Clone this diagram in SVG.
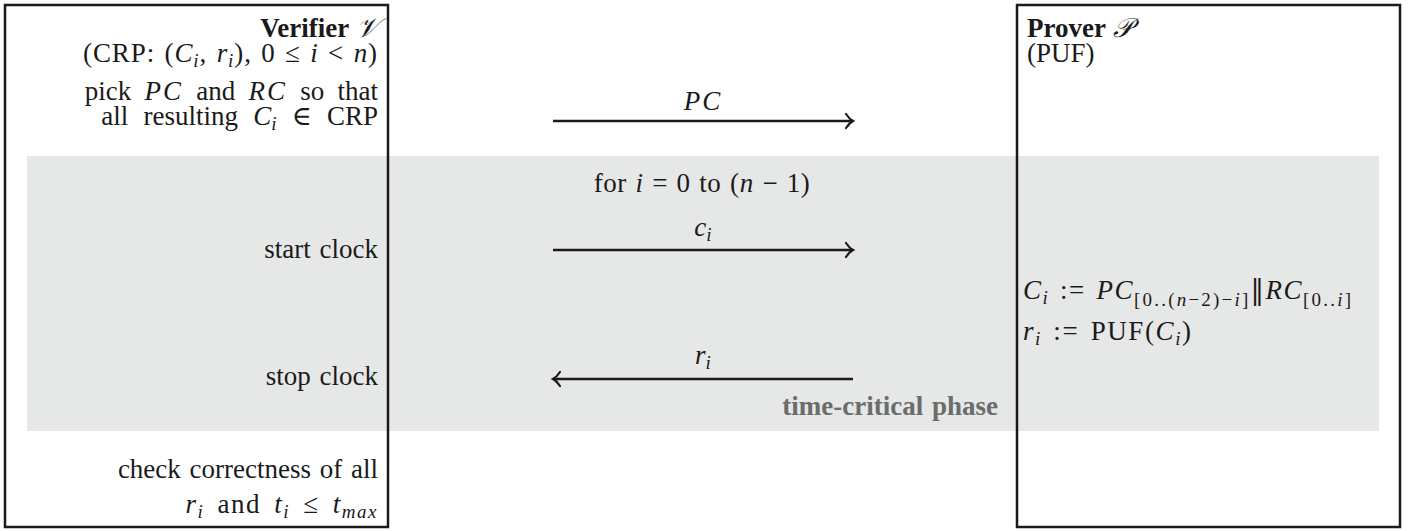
<svg xmlns="http://www.w3.org/2000/svg" width="1411" height="531" viewBox="0 0 1411 531">
<defs>
<style>
text{font-family:"Liberation Serif","DejaVu Serif",serif;font-size:27px;fill:#1a1a1a}
.r{text-anchor:end}
.c{text-anchor:middle}
.i{font-style:italic}
.b{font-weight:bold}
.s{font-size:19px}
.m{letter-spacing:1.5px;word-spacing:2.5px}
.w{word-spacing:2px}
.g{fill:#6b6c6c;font-weight:bold}
.box{fill:none;stroke:#1a1a1a;stroke-width:2.5}
.arr{stroke:#1a1a1a;stroke-width:2.5;fill:none}
</style>
<marker id="ah" markerWidth="14" markerHeight="18" refX="11" refY="9" orient="auto" markerUnits="userSpaceOnUse">
<path d="M4,2 C6,5 8,7.5 11,9 C8,10.5 6,13 4,16" fill="none" stroke="#1a1a1a" stroke-width="2.2" stroke-linecap="round"/>
</marker>
</defs>
<rect width="1411" height="531" fill="#fff"/>
<rect id="phase" x="27" y="156" width="1352" height="275" fill="#e6e7e7"/>
<g id="verifier">
<rect class="box" x="5" y="5" width="383" height="522"/>
<text class="r" x="378" y="37"><tspan class="b">Verifier</tspan> <tspan class="i">𝒱</tspan></text>
<text class="r" x="378" y="62" style="letter-spacing:0.9px;word-spacing:1.8px">(CRP: (<tspan class="i">C</tspan><tspan class="i s" dy="5">i</tspan><tspan dy="-5">, </tspan><tspan class="i">r</tspan><tspan class="i s" dy="5">i</tspan><tspan dy="-5">), 0 ≤ </tspan><tspan class="i">i</tspan> &lt; <tspan class="i">n</tspan>)</text>
<text class="r" x="378" y="100" style="word-spacing:6.5px">pick <tspan class="i" style="letter-spacing:2px">PC</tspan> and <tspan class="i" style="letter-spacing:2px">RC</tspan> so that</text>
<text class="r" x="378" y="125" style="word-spacing:8.5px">all resulting <tspan class="i">C</tspan><tspan class="i s" dy="5">i</tspan><tspan dy="-5"> ∈ CRP</tspan></text>
<text class="r w" x="378" y="258">start clock</text>
<text class="r w" x="378" y="385">stop clock</text>
<text class="r w" x="378" y="478">check correctness of all</text>
<text class="r" x="378" y="513" style="letter-spacing:1.5px;word-spacing:5px"><tspan class="i">r</tspan><tspan class="i s" dy="5">i</tspan><tspan dy="-5"> and </tspan><tspan class="i">t</tspan><tspan class="i s" dy="5">i</tspan><tspan dy="-5"> ≤ </tspan><tspan class="i">t</tspan><tspan class="i s" dy="5">max</tspan></text>
</g>
<g id="prover">
<rect class="box" x="1017" y="5" width="383" height="522"/>
<text x="1027" y="37"><tspan class="b">Prover</tspan> <tspan class="i">𝒫</tspan></text>
<text x="1027" y="62">(PUF)</text>
<text class="m" x="1023" y="299"><tspan class="i">C</tspan><tspan class="i s" dy="5">i</tspan><tspan dy="-5"> := </tspan><tspan class="i">PC</tspan><tspan class="s" dy="7" style="letter-spacing:2.2px">[0..(<tspan class="i">n</tspan>−2)−<tspan class="i">i</tspan>]</tspan><tspan dy="-7" style="font-family:'DejaVu Serif'">‖</tspan><tspan class="i">RC</tspan><tspan class="s" dy="7" style="letter-spacing:2.2px">[0..<tspan class="i">i</tspan>]</tspan></text>
<text x="1023" y="340" style="letter-spacing:1.6px;word-spacing:3px"><tspan class="i">r</tspan><tspan class="i s" dy="5">i</tspan><tspan dy="-5"> := PUF(</tspan><tspan class="i">C</tspan><tspan class="i s" dy="5">i</tspan><tspan dy="-5">)</tspan></text>
</g>
<g id="labels">
<text class="c" x="702" y="192" style="letter-spacing:0.5px;word-spacing:1.5px">for <tspan class="i">i</tspan> = 0 to (<tspan class="i">n</tspan> − 1)</text>
<text class="r g w" x="998" y="415">time-critical phase</text>
</g>
<g id="connectors">
<line class="arr" x1="553" y1="121" x2="853" y2="121" marker-end="url(#ah)"/>
<text class="c i" x="703" y="110" style="letter-spacing:2px">PC</text>
<line class="arr" x1="553" y1="250" x2="853" y2="250" marker-end="url(#ah)"/>
<text class="c" x="703" y="236"><tspan class="i">c</tspan><tspan class="i s" dy="5">i</tspan></text>
<line class="arr" x1="853" y1="379" x2="553" y2="379" marker-end="url(#ah)"/>
<text class="c" x="703" y="364"><tspan class="i">r</tspan><tspan class="i s" dy="5">i</tspan></text>
</g>
</svg>
